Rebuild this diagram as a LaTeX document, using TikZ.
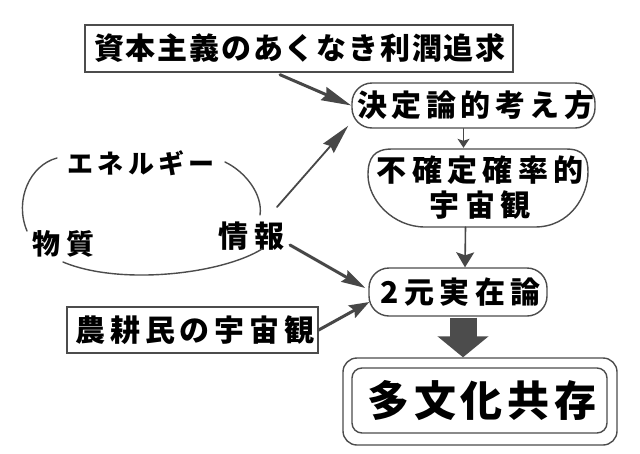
\documentclass[tikz,border=0pt]{standalone}
\usepackage{fontspec}
\newfontfamily\jp{Noto Sans CJK JP}
\newcommand\lsp[2]{{\addfontfeature{LetterSpace=#1}#2\kern-#1\dimexpr 0.01em\relax}}
\usetikzlibrary{arrows.meta,calc}
\tikzset{
  pencil/.style={draw=black!70, line width=1.4pt},
  jptext/.style={font=\jp\bfseries\fontsize{30}{35}\selectfont, text=black, inner sep=0pt, align=center},
  boxA/.style={pencil, jptext},
  label/.style={jptext},
  conn/.style={draw=black!72, line cap=round},
}
\begin{document}
\begin{tikzpicture}[x=1pt,y=-1pt]
\useasboundingbox[fill=white] (0,0) rectangle (640,453);

% nodes
\node[boxA, minimum width=428, minimum height=47] (box1) at (299,48.5) {\lsp{6}{資本主義のあくなき利潤追求}};
\node[boxA, rounded corners=20, minimum width=243, minimum height=45] (kettei) at (473.5,105.5) {\lsp{15}{決定論的考え方}};
\node[jptext, minimum width=219, minimum height=79] (fukaku) at (477.5,187.5) {\lsp{18}{不確定確率的}\\\lsp{18}{宇宙観}};
\draw[pencil] (392,149) -- (566,149)
  .. controls (584,149) and (588,158) .. (588,172)
  .. controls (588,196) and (570,227) .. (535,227) -- (425,227)
  .. controls (393,227) and (368,200) .. (368,175)
  .. controls (368,158) and (374,149) .. (392,149) -- cycle;
\node[boxA, rounded corners=20, minimum width=178, minimum height=48] (niGen) at (458,292) {\lsp{18}{2元実在論}};
\node[boxA, minimum width=251, minimum height=46] (nouko) at (192.5,330) {\lsp{16}{農耕民の宇宙観}};
\node[boxA, rounded corners=10, minimum width=255, minimum height=65, font=\jp\bfseries\fontsize{42}{46}\selectfont] (tabunka) at (479.5,400.5) {\lsp{11}{多文化共存}};
\node[pencil, rounded corners=14, minimum width=274, minimum height=87] (tabunkaOuter) at (480,401.5) {};

\node[label, font=\jp\bfseries\fontsize{26}{30}\selectfont] (energy) at (139,163) {\lsp{16}{エネルギー}};
\node[label, font=\jp\bfseries\fontsize{28}{32}\selectfont] (busshitsu) at (61,244) {\lsp{20}{物質}};
\node[label] (jouhou) at (248,236) {\lsp{20}{情報}};

% loop around the three labels
\draw[pencil, line cap=round] (57,158) .. controls (30,165) and (14,200) .. (27,231);
\draw[pencil, line cap=round] (225,162) .. controls (246,172) and (263,195) .. (260,215);
\draw[pencil, line cap=round] (63,262) .. controls (120,286) and (222,274) .. (262,249);

% free ends
\coordinate (a2s) at (277,207);
\coordinate (a3s) at (290,245);

% connectors
\draw[conn, line width=3pt, -{Stealth[length=30pt,width=14pt,inset=3pt]}]
  ($(box1.south)+(-19,2)$) -- (kettei.west);
\draw[conn, line width=1.8pt, -{Stealth[length=30pt,width=14pt,inset=3pt]}]
  (a2s) -- ($(kettei.south west)+(-3,-3)$);
\draw[conn, line width=3pt, -{Stealth[length=24pt,width=13pt,inset=3pt]}]
  (a3s) -- ($(niGen.west)+(-3,-4)$);
\draw[conn, line width=3pt, -{Stealth[length=20pt,width=14pt,inset=3pt]}]
  (nouko.east) -- ($(niGen.west)+(1,10)$);
\draw[conn, line width=1.3pt, -{Stealth[length=9pt,width=12pt,inset=2pt]}]
  ($(kettei.south)+(-10,0)$) -- ($(fukaku.north)+(-14,0)$);
\draw[conn, line width=1.6pt, -{Stealth[length=15pt,width=18pt,inset=3pt]}]
  ($(fukaku.south)+(-12,0)$) -- ($(niGen.north)+(7,0)$);
\draw[draw=black!70, line width=27pt, -{Triangle[length=21pt,width=50pt]}]
  ($(niGen.south)+(5,1)$) -- ($(tabunkaOuter.north)+(-17,0)$);
\end{tikzpicture}
\end{document}
